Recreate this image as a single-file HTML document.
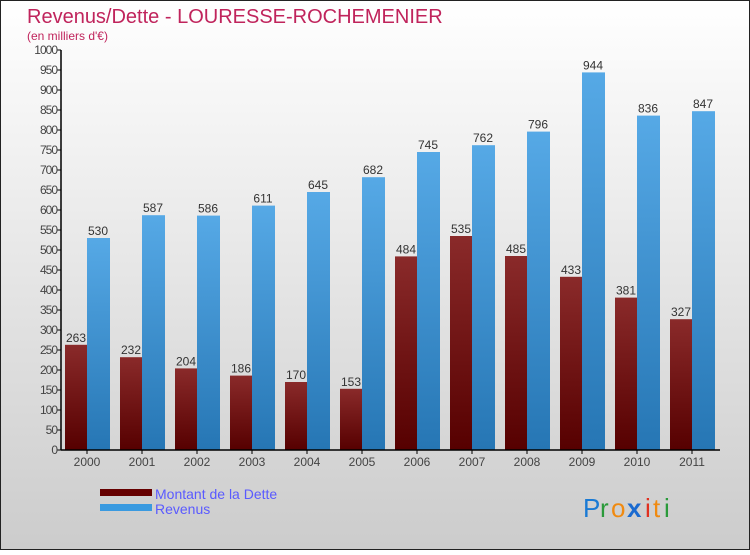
<!DOCTYPE html>
<html><head><meta charset="utf-8"><style>
html,body{margin:0;padding:0}
body{width:750px;height:550px;overflow:hidden;font-family:"Liberation Sans",sans-serif}
</style></head><body>
<svg width="750" height="550" xmlns="http://www.w3.org/2000/svg">
<defs>
<linearGradient id="bg" x1="0" y1="0" x2="0" y2="1"><stop offset="0" stop-color="#ffffff"/><stop offset="1" stop-color="#cccccc"/></linearGradient>
<linearGradient id="gr" x1="0" y1="0" x2="0" y2="1"><stop offset="0" stop-color="#8a2a2a"/><stop offset="1" stop-color="#560000"/></linearGradient>
<linearGradient id="gb" x1="0" y1="0" x2="0" y2="1"><stop offset="0" stop-color="#56a9e6"/><stop offset="1" stop-color="#2676b4"/></linearGradient>
</defs>
<rect x="0.5" y="0.5" width="749" height="549" fill="url(#bg)" stroke="#222"/>
<text x="27" y="23" font-size="20" fill="#c0245c">Revenus/Dette - LOURESSE-ROCHEMENIER</text>
<text x="27" y="40" font-size="12" fill="#c0245c">(en milliers d'€)</text>
<g id="yaxis"></g>
<g id="bars"></g>
<g id="xaxis"></g>
<rect x="100" y="489" width="52" height="7" fill="#660000"/>
<text x="155" y="499" font-size="14" fill="#5a5aff">Montant de la Dette</text>
<rect x="100" y="504" width="52" height="7" fill="#3a9ae0"/>
<text x="155" y="514" font-size="14" fill="#5a5aff">Revenus</text>
<g font-size="26" font-family="Liberation Sans,sans-serif">
<text x="583" y="517" fill="#1a7ad4">P</text><text x="600" y="517" fill="#2a9a3a">r</text><text x="611" y="517" fill="#f08a10">o</text><text x="627" y="517" fill="#1a6ad0" font-weight="bold">x</text><text x="645" y="517" fill="#e03020">i</text><text x="653" y="517" fill="#f08a10">t</text><text x="664" y="517" fill="#2a9a3a">i</text>
</g>
</svg>
<script>
const years=["2000","2001","2002","2003","2004","2005","2006","2007","2008","2009","2010","2011"];
const dette=[263,232,204,186,170,153,484,535,485,433,381,327];
const revenus=[530,587,586,611,645,682,745,762,796,944,836,847];
const yTicks=[0,50,100,150,200,250,300,350,400,450,500,550,600,650,700,750,800,850,900,950,1000];
const NS="http://www.w3.org/2000/svg";
const y0=450,y1=50,vmax=1000,ax=61,step=55;
const ys=v=>y0-(v/vmax)*(y0-y1);
const xg=i=>ax+4+i*step;
function mk(t,a,p){const e=document.createElementNS(NS,t);for(const k in a)e.setAttribute(k,a[k]);p.appendChild(e);return e;}
const ya=document.getElementById('yaxis'),bg=document.getElementById('bars'),xa=document.getElementById('xaxis');
const yl=mk('line',{x1:ax,y1:y1,x2:ax,y2:y0,stroke:'#000','stroke-width':1.5},ya);


yTicks.forEach(v=>{
 const t=mk('line',{x1:ax-4,x2:ax,y1:ys(v),y2:ys(v),stroke:'#000'},ya);
 
 
 const l=mk('text',{x:ax-4,y:ys(v)+4,'font-size':12,'text-anchor':'end',fill:'#444','letter-spacing':'-1'},ya);
 l.textContent=v;
 
 
});
const xl=mk('line',{x1:ax,y1:y0,x2:720,y2:y0,stroke:'#000','stroke-width':1.5},xa);


years.forEach((y,i)=>{
 const g=xg(i);
 const r=mk('rect',{x:g,y:ys(dette[i]),width:22,height:y0-ys(dette[i]),fill:'url(#gr)'},bg);
 
 
 const b=mk('rect',{x:g+22,y:ys(revenus[i]),width:23,height:y0-ys(revenus[i]),fill:'url(#gb)'},bg);
 
 
 const l1=mk('text',{x:g+11,y:ys(dette[i])-3,'font-size':12,'text-anchor':'middle',fill:'#333'},bg);
 l1.textContent=dette[i];
 
 
 const l2=mk('text',{x:g+33,y:ys(revenus[i])-3,'font-size':12,'text-anchor':'middle',fill:'#333'},bg);
 l2.textContent=revenus[i];
 
 
 const t=mk('line',{x1:g+22,x2:g+22,y1:y0,y2:y0+4,stroke:'#000'},xa);
 
 
 const xl2=mk('text',{x:g+22,y:y0+16,'font-size':12,'text-anchor':'middle',fill:'#444'},xa);
 xl2.textContent=y;
 
 
});
</script>
</body></html>
